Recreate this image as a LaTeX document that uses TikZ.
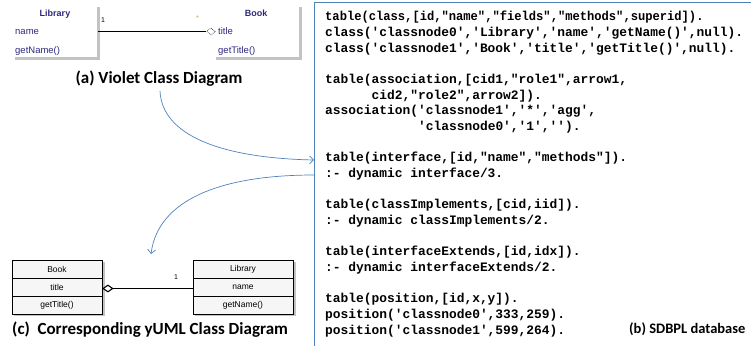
\documentclass[tikz,border=0pt]{standalone}
\usepackage{graphicx}
\usepackage{fontspec}
\setmainfont{Carlito}
\setmonofont{Liberation Mono}
\newfontfamily\uifont{Liberation Sans}
\usetikzlibrary{arrows.meta,shapes.geometric}
\definecolor{arrowblue}{RGB}{79,129,189}
\definecolor{violettext}{RGB}{45,40,125}
\definecolor{shadowgray}{RGB}{195,195,195}
\definecolor{staror}{RGB}{210,160,40}
\tikzset{
  codeline/.style={anchor=base west, inner sep=0pt, font=\ttfamily\bfseries\fontsize{12.9}{15}\selectfont},
  captiontext/.style={inner sep=0pt, font=\bfseries\fontsize{17}{20}\selectfont},
  vtitle/.style={anchor=base, inner sep=0pt, text=violettext, font=\uifont\bfseries\fontsize{9}{10}\selectfont},
  vitem/.style={anchor=base west, inner sep=0pt, text=violettext, font=\uifont\fontsize{9.5}{10}\selectfont},
  vbox/.style={draw=none, minimum width=83pt, minimum height=51pt, inner sep=0pt},
  ycell/.style={draw=black, line width=0.7pt, fill=gray!7, minimum height=18pt, inner sep=0pt, font=\uifont\fontsize{8.5}{10}\selectfont},
  flow/.style={draw=arrowblue, line width=0.7pt, -{Straight Barb[length=4pt,width=8pt]}},
  mult/.style={inner sep=0pt, font=\uifont\fontsize{7}{8}\selectfont}
}
\begin{document}
\begin{tikzpicture}[x=1pt,y=-1pt]
\useasboundingbox (0,0) rectangle (751,345);
\clip (0,0) rectangle (751,345);

% ---------- (a) Violet class diagram ----------
\node[vbox] (vlib) at (56.5,31.5) {};
\node[vbox] (vbook) at (257.5,31.5) {};
\fill[shadowgray] (97,7) rectangle (100,60);
\fill[shadowgray] (15,57) rectangle (100,60);
\fill[shadowgray] (299,7) rectangle (302,60);
\fill[shadowgray] (216,57) rectangle (302,60);
\node[vtitle] (vlibt) at (55,17) {Library};
\node[vitem] (vlibf) at (15,35) {name};
\node[vitem] (vlibm) at (15,53) {getName()};
\node[vtitle] (vbookt) at (256,17) {Book};
\node[vitem] (vbookf) at (218,35) {title};
\node[vitem] (vbookm) at (218,53) {getTitle()};
\node[diamond, draw=black, densely dotted, line width=0.6pt, minimum width=9pt, minimum height=7pt, inner sep=0pt, anchor=east] (vdia) at (vbook.west) {};
\draw[line width=1.3pt] (vlib.east) -- (vdia.west);
\node[mult, anchor=base west] (vone) at (101,23) {1};
\node[mult, anchor=base west, text=staror] (vstar) at (196,21) {*};
\node[captiontext, anchor=base] (capa) at (159,83) {(a) Violet Class Diagram};

% ---------- (b) code box ----------
\draw[arrowblue, line width=0.9pt] (314,2) rectangle (800,400);
\node[codeline] (c1) at (325,21) {\scalebox{0.94}[1]{table(class,[id,"name","fields","methods",superid]).}};
\node[codeline] (c2) at (325,36.65) {class('classnode0','Library','name','getName()',null).};
\node[codeline] (c3) at (325,52.3) {class('classnode1','Book','title','getTitle()',null).};
\node[codeline] (c4) at (325,83.6) {table(association,[cid1,"role1",arrow1,};
\node[codeline] (c5) at (325,99.25) {\phantom{xxxxxx}cid2,"role2",arrow2]).};
\node[codeline] (c6) at (325,114.9) {association('classnode1','*','agg',};
\node[codeline] (c7) at (325,130.55) {\phantom{xxxxxxxxxxxx}'classnode0','1','').};
\node[codeline] (c8) at (325,161.85) {table(interface,[id,"name","methods"]).};
\node[codeline] (c9) at (325,177.5) {:- dynamic interface/3.};
\node[codeline] (c10) at (325,208.8) {table(classImplements,[cid,iid]).};
\node[codeline] (c11) at (325,224.45) {:- dynamic classImplements/2.};
\node[codeline] (c12) at (325,255.75) {table(interfaceExtends,[id,idx]).};
\node[codeline] (c13) at (325,271.4) {:- dynamic interfaceExtends/2.};
\node[codeline] (c14) at (325,302.7) {table(position,[id,x,y]).};
\node[codeline] (c15) at (325,318.35) {position('classnode0',333,259).};
\node[codeline] (c16) at (325,334) {position('classnode1',599,264).};
\node[inner sep=0pt, font=\bfseries\fontsize{14.5}{17}\selectfont, anchor=base west] (capb) at (629,333) {(b) SDBPL database};

% ---------- (c) yUML class diagram ----------
\fill[shadowgray] (102,262) rectangle (104.5,316);
\fill[shadowgray] (14,314) rectangle (104.5,316);
\fill[shadowgray] (293,262) rectangle (295.5,316);
\fill[shadowgray] (195,314) rectangle (295.5,316);
\node[ycell, minimum width=90pt] (yb1) at (57,269) {Book};
\node[ycell, minimum width=90pt] (yb2) at (57,287) {title};
\node[ycell, minimum width=90pt] (yb3) at (57,305) {getTitle()};
\node[ycell, minimum width=100pt] (yl1) at (243,269) {Library};
\node[ycell, minimum width=100pt] (yl2) at (243,287) {name};
\node[ycell, minimum width=100pt] (yl3) at (243,305) {getName()};
\node[diamond, draw=black, fill=white, line width=1.1pt, minimum width=10pt, minimum height=7pt, inner sep=0pt, anchor=west] (ydia) at ([yshift=-1.5pt]yb2.east) {};
\draw[line width=0.8pt] (ydia.east) -- (ydia.east -| yl2.west);
\node[mult, anchor=base] (yone) at (176,279) {1};
\node[captiontext, anchor=base west] (capc) at (12,334) {(c)~ Corresponding yUML Class Diagram};

% ---------- connectors ----------
\coordinate (a1s) at (160,91);
\coordinate (a1e) at (314,160);
\coordinate (a2s) at (314,175);
\coordinate (a2e) at (151,254);
\draw[flow] (a1s) .. controls (162,135) and (220,158) .. (a1e);
\draw[flow] (a2s) .. controls (220,175) and (158,200) .. (a2e);
\end{tikzpicture}
\end{document}
